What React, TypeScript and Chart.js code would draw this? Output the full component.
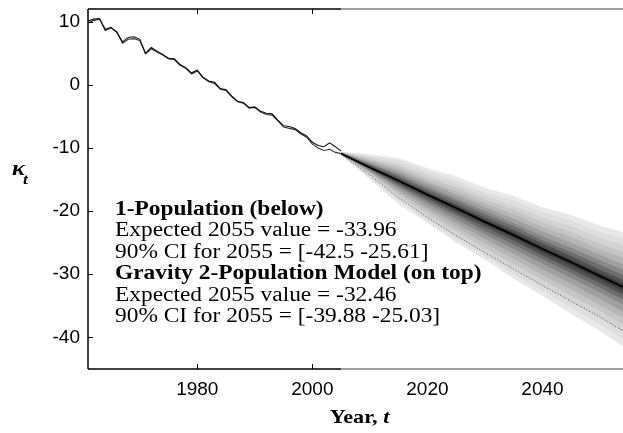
import React, { useEffect, useRef } from "react";
import { Chart, registerables } from "chart.js";

Chart.register(...registerables);

// ---------- data ----------
const histYears = [
  1961, 1962, 1963, 1964, 1965, 1966, 1967, 1968, 1969, 1970,
  1971, 1972, 1973, 1974, 1975, 1976, 1977, 1978, 1979, 1980,
  1981, 1982, 1983, 1984, 1985, 1986, 1987, 1988, 1989, 1990,
  1991, 1992, 1993, 1994, 1995, 1996, 1997, 1998, 1999, 2000,
  2001, 2002, 2003, 2004, 2005,
];
const kappaA = [
  10.1, 10.4, 10.5, 8.8, 9.1, 8.3, 6.8, 7.5, 7.6, 7.2,
  5.0, 5.9, 5.3, 4.8, 4.2, 4.1, 3.2, 2.7, 1.9, 2.3,
  1.2, 0.6, 0.4, -0.6, -0.8, -1.8, -2.6, -2.8, -3.6, -3.5,
  -4.2, -4.5, -4.6, -5.6, -6.5, -6.6, -6.9, -7.6, -8.1, -9.1,
  -9.6, -9.8, -9.2, -9.8, -10.5,
];
const kappaB = [
  9.8, 10.2, 10.4, 8.6, 9.0, 8.4, 6.6, 7.2, 7.3, 7.0,
  4.9, 5.7, 5.2, 4.7, 4.1, 4.0, 3.1, 2.6, 1.7, 2.2,
  1.1, 0.5, 0.2, -0.7, -0.9, -1.9, -2.7, -2.9, -3.7, -3.6,
  -4.3, -4.7, -4.8, -5.7, -6.7, -6.9, -7.1, -7.8, -8.3, -9.4,
  -10.0, -10.4, -10.2, -10.7, -10.9,
];

const fanYears = [2005, 2010, 2015, 2020, 2025, 2030, 2035, 2040, 2045, 2050, 2054];
const fanMedian = [-10.9, -13.1, -15.2, -17.4, -19.5, -21.7, -23.8, -26.0, -28.1, -30.3, -32.0];
// upper quantile bands (outer -> inner)
const fanUpper100 = [-10.6, -11.0, -11.6, -13.2, -14.5, -16.3, -17.6, -19.4, -20.6, -22.3, -23.3];
const fanUpper88 = [-10.6, -11.3, -12.0, -13.7, -15.1, -17.0, -18.3, -20.2, -21.5, -23.3, -24.3];
const fanUpper76 = [-10.7, -11.5, -12.5, -14.2, -15.7, -17.6, -19.1, -21.0, -22.4, -24.2, -25.4];
const fanUpper64 = [-10.7, -11.8, -12.9, -14.7, -16.3, -18.2, -19.8, -21.8, -23.3, -25.2, -26.4];
const fanUpper53 = [-10.7, -12.0, -13.3, -15.2, -16.9, -18.8, -20.5, -22.5, -24.1, -26.1, -27.4];
const fanUpper42 = [-10.8, -12.2, -13.7, -15.6, -17.4, -19.4, -21.2, -23.2, -25.0, -26.9, -28.4];
const fanUpper31 = [-10.8, -12.5, -14.1, -16.1, -18.0, -20.0, -21.9, -24.0, -25.8, -27.8, -29.3];
const fanUpper22 = [-10.8, -12.6, -14.4, -16.5, -18.4, -20.5, -22.4, -24.6, -26.5, -28.5, -30.1];
const fanUpper13 = [-10.9, -12.8, -14.7, -16.9, -18.9, -21.0, -23.0, -25.1, -27.1, -29.3, -30.9];
const fanUpper06 = [-10.9, -13.0, -15.0, -17.2, -19.2, -21.4, -23.4, -25.6, -27.7, -29.8, -31.5];
// lower quantile bands (outer -> inner)
const fanLower100 = [-11.2, -15.0, -18.9, -21.9, -25.0, -27.7, -30.7, -33.4, -36.3, -39.0, -41.4];
const fanLowerMid = [-11.1, -14.7, -18.4, -21.5, -24.5, -27.2, -30.0, -32.6, -35.3, -37.9, -40.2];
const onePopLower = [-11.0, -14.3, -17.9, -21.0, -23.9, -26.6, -29.2, -31.8, -34.3, -36.8, -39.0];
const fanLower85 = [-11.0, -14.1, -17.5, -20.5, -23.2, -25.9, -28.4, -30.9, -33.4, -35.8, -38.0];
const fanLower70 = [-11.0, -13.9, -17.1, -19.9, -22.6, -25.1, -27.6, -30.1, -32.4, -34.9, -36.9];
const fanLower55 = [-11.0, -13.8, -16.7, -19.4, -21.9, -24.4, -26.8, -29.2, -31.5, -33.9, -35.9];
const fanLower40 = [-10.9, -13.6, -16.3, -18.8, -21.3, -23.7, -26.0, -28.3, -30.6, -32.9, -34.8];
const fanLower28 = [-10.9, -13.4, -16.0, -18.4, -20.7, -23.1, -25.3, -27.6, -29.8, -32.1, -34.0];
const fanLower17 = [-10.9, -13.3, -15.7, -18.0, -20.3, -22.5, -24.7, -27.0, -29.2, -31.4, -33.2];
const fanLower08 = [-10.9, -13.2, -15.4, -17.7, -19.9, -22.1, -24.2, -26.5, -28.6, -30.8, -32.6];

const bandShades = ["#e8e8e8", "#dedede", "#d3d3d3", "#c5c5c5", "#b5b5b5", "#a0a0a0", "#888888", "#6c6c6c", "#505050", "#3a3a3a"];

const xTickValues = [1980, 2000, 2020, 2040];
const yTickValues = [-40, -30, -20, -10, 0, 10];

const annotationLines = [
  { text: "1-Population (below)", bold: true },
  { text: "Expected 2055 value = -33.96", bold: false },
  { text: "90% CI for 2055 = [-42.5 -25.61]", bold: false },
  { text: "Gravity 2-Population Model (on top)", bold: true },
  { text: "Expected 2055 value = -32.46", bold: false },
  { text: "90% CI for 2055 = [-39.88 -25.03]", bold: false },
];

// ---------- helpers ----------
const pts = (xs: number[], ys: number[]) => xs.map((x, i) => ({ x, y: ys[i] }));
const SERIF = '"Liberation Serif", "Times New Roman", serif';
const SANS = '"Liberation Sans", Arial, sans-serif';
const STRETCH = 1.17;

function stretchedText(ctx: CanvasRenderingContext2D, text: string, x: number, y: number, font: string) {
  ctx.save();
  ctx.font = font;
  ctx.translate(x, y);
  ctx.scale(STRETCH, 1);
  ctx.fillText(text, 0, 0);
  ctx.restore();
}
function stretchedWidth(ctx: CanvasRenderingContext2D, text: string, font: string) {
  ctx.save();
  ctx.font = font;
  const w = ctx.measureText(text).width * STRETCH;
  ctx.restore();
  return w;
}

const boxPlugin = {
  id: "boxAxes",
  afterDatasetsDraw(chart: any) {
    const { ctx, chartArea: a, scales } = chart;
    const xs = scales.x;
    const ys = scales.y;
    const xf = xs.getPixelForValue(fanYears[0]);
    ctx.save();
    ctx.lineWidth = 1.5;
    ctx.strokeStyle = "#000";
    ctx.beginPath();
    ctx.moveTo(a.left, a.top);
    ctx.lineTo(a.left, a.bottom);
    ctx.stroke();
    ctx.beginPath();
    ctx.moveTo(a.left, a.bottom);
    ctx.lineTo(xf, a.bottom);
    ctx.moveTo(a.left, a.top);
    ctx.lineTo(xf, a.top);
    ctx.stroke();
    ctx.strokeStyle = "#808080";
    ctx.beginPath();
    ctx.moveTo(xf, a.bottom);
    ctx.lineTo(a.right, a.bottom);
    ctx.moveTo(xf, a.top);
    ctx.lineTo(a.right, a.top);
    ctx.stroke();
    ctx.lineWidth = 1;
    ctx.strokeStyle = "#000";
    ctx.beginPath();
    for (const v of xTickValues) {
      const x = Math.round(xs.getPixelForValue(v)) + 0.5;
      if (x < xf) {
        ctx.moveTo(x, a.bottom);
        ctx.lineTo(x, a.bottom - 5);
        ctx.moveTo(x, a.top);
        ctx.lineTo(x, a.top + 5);
      }
    }
    for (const v of yTickValues) {
      const y = Math.round(ys.getPixelForValue(v)) + 0.5;
      ctx.moveTo(a.left, y);
      ctx.lineTo(a.left + 5, y);
    }
    ctx.stroke();
    ctx.restore();
  },
  afterDraw(chart: any) {
    const { ctx, chartArea: a } = chart;
    ctx.save();
    ctx.fillStyle = "#000";
    ctx.textBaseline = "alphabetic";
    ctx.textAlign = "left";
    const x0 = a.left + 27;
    let y0 = a.top + 206;
    for (const line of annotationLines) {
      const font = (line.bold ? "bold " : "") + "20px " + SERIF;
      stretchedText(ctx, line.text, x0, y0, font);
      y0 += 21.4;
    }
    const f1 = "bold 19px " + SERIF;
    const f2 = "italic bold 19px " + SERIF;
    const w1 = stretchedWidth(ctx, "Year, ", f1);
    const w2 = stretchedWidth(ctx, "t", f2);
    const cx = (a.left + a.right) / 2 + 4;
    const tx = cx - (w1 + w2) / 2;
    stretchedText(ctx, "Year, ", tx, 423, f1);
    stretchedText(ctx, "t", tx + w1, 423, f2);
    stretchedText(ctx, "\u03ba", 12, 175, "italic bold 21px " + SERIF);
    stretchedText(ctx, "t", 23, 184, "italic bold 15px " + SERIF);
    ctx.restore();
  },
};

export default function App() {
  const ref = useRef<HTMLCanvasElement | null>(null);

  useEffect(() => {
    const canvas = ref.current;
    if (!canvas) return;
    const none = "rgba(0,0,0,0)";
    const DOTTED_INDEX = 3;
    const datasets: any[] = [
      { data: pts(histYears, kappaA), borderColor: "#111", borderWidth: 1.1, pointRadius: 0, fill: false, order: -1 },
      { data: pts(histYears, kappaB), borderColor: "#333", borderWidth: 1.1, pointRadius: 0, fill: false, order: -1 },
      { data: pts(fanYears, fanMedian), borderColor: "#000", borderWidth: 1.8, pointRadius: 0, fill: false, order: 0 },
      { data: pts(fanYears, onePopLower), borderColor: "#222", borderWidth: 0.8, borderDash: [1, 2], pointRadius: 0, fill: false, order: 0 },
    ];
    const pairs: [number[], number[] | null][] = [
      [fanUpper100, fanLower100],
      [fanUpper88, fanLowerMid],
      [fanUpper76, null],
      [fanUpper64, fanLower85],
      [fanUpper53, fanLower70],
      [fanUpper42, fanLower55],
      [fanUpper31, fanLower40],
      [fanUpper22, fanLower28],
      [fanUpper13, fanLower17],
      [fanUpper06, fanLower08],
    ];
    pairs.forEach(([up, low], k) => {
      const order = pairs.length + 1 - k;
      const upIndex = datasets.length;
      const target = low ? upIndex + 1 : DOTTED_INDEX;
      datasets.push({
        data: pts(fanYears, up),
        borderColor: none,
        borderWidth: 0,
        backgroundColor: bandShades[k],
        fill: target,
        pointRadius: 0,
        order,
      });
      if (low) {
        datasets.push({
          data: pts(fanYears, low),
          borderColor: none,
          borderWidth: 0,
          backgroundColor: none,
          fill: false,
          pointRadius: 0,
          order,
        });
      }
    });

    const chart = new Chart(canvas, {
      type: "line",
      data: { datasets },
      options: {
        animation: false,
        responsive: false,
        devicePixelRatio: 1,
        events: [],
        layout: { padding: { top: 9, left: 0, right: 0, bottom: 0 } },
        plugins: { legend: { display: false }, tooltip: { enabled: false }, title: { display: false } },
        elements: { line: { tension: 0 } },
        scales: {
          x: {
            type: "linear",
            min: 1961,
            max: 2054,
            grid: { display: false, drawTicks: false },
            border: { display: false },
            afterBuildTicks: (s: any) => {
              s.ticks = xTickValues.map((v) => ({ value: v }));
            },
            afterFit: (s: any) => {
              s.height = 64;
              s.paddingLeft = 0;
              s.paddingRight = 0;
            },
            ticks: {
              color: "#000",
              font: { family: SANS, size: 19 },
              padding: 9,
              maxRotation: 0,
              autoSkip: false,
              callback: (v: any) => String(v),
            },
          },
          y: {
            type: "linear",
            min: -45,
            max: 12,
            grid: { display: false, drawTicks: false },
            border: { display: false },
            afterBuildTicks: (s: any) => {
              s.ticks = yTickValues.map((v) => ({ value: v }));
            },
            afterFit: (s: any) => {
              s.width = 88;
              s.paddingTop = 0;
              s.paddingBottom = 0;
            },
            ticks: {
              color: "#000",
              font: { family: SANS, size: 19 },
              padding: 8,
              callback: (v: any) => String(v),
            },
          },
        },
      },
      plugins: [boxPlugin],
    } as any);
    return () => chart.destroy();
  }, []);

  return (
    <div style={{ position: "absolute", left: 0, top: 0, width: 623, height: 433, overflow: "hidden", background: "#fff" }}>
      <canvas ref={ref} width={623} height={433} style={{ display: "block", width: 623, height: 433 }} />
    </div>
  );
}
